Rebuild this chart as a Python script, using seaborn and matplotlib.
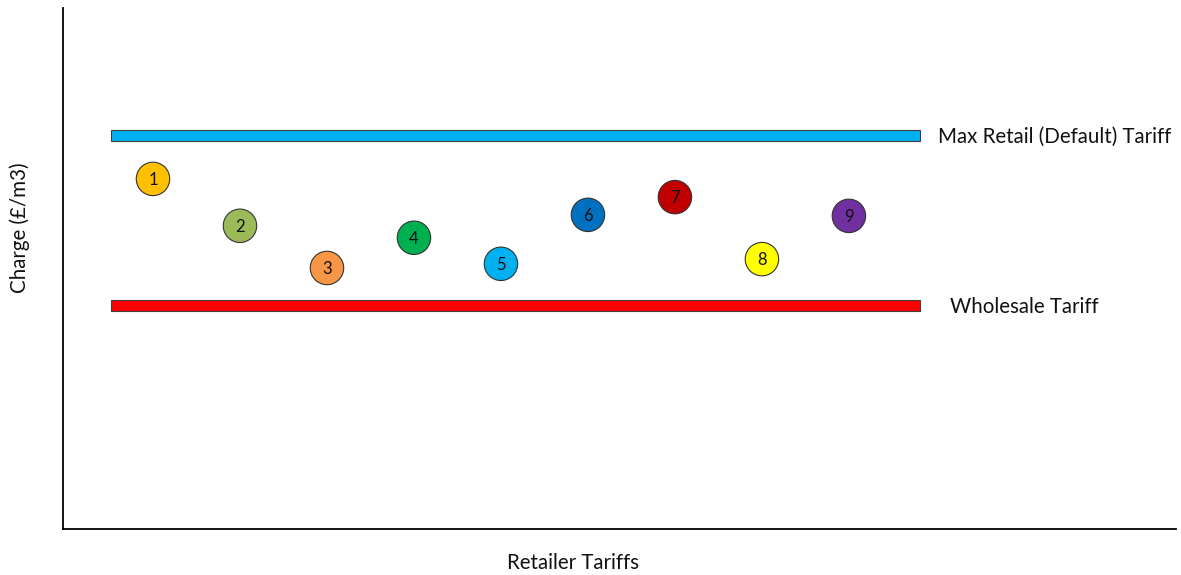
import matplotlib
matplotlib.use("Agg")
import matplotlib.pyplot as plt
import seaborn as sns
import pandas as pd

sns.set_theme(style="white")
plt.rcParams['font.family'] = ['Lato', 'DejaVu Sans']

# Data
tariff_ids = [1, 2, 3, 4, 5, 6, 7, 8, 9]
tariff_labels = ["1", "2", "3", "4", "5", "6", "7", "8", "9"]
charges = [6.72, 5.82, 5.01, 5.59, 5.09, 6.03, 6.37, 5.18, 6.01]
point_colors = ["#FFC000", "#9BBB59", "#F79646", "#00B050", "#00B0F0",
                "#0070C0", "#C00000", "#FFFF00", "#7030A0"]

band_names = ["Max Retail (Default) Tariff", "Wholesale Tariff"]
band_levels = [7.55, 4.29]
band_colors = ["#00B0F0", "#FF0000"]
band_start = 0.52
band_end = 9.82

df = pd.DataFrame({"tariff": tariff_ids, "label": tariff_labels, "charge": charges})

fig = plt.figure(figsize=(11.81, 5.75), dpi=100)
ax = fig.add_axes([63/1181, 1 - 529/575, (1176-63)/1181, (529-8)/575])

# Bands
for name, lvl, col, dx in zip(band_names, band_levels, band_colors, [0.0, 0.14]):
    ax.barh(lvl, band_end - band_start, left=band_start, height=0.21,
            color=col, edgecolor="#404040", linewidth=0.8, zorder=2)
    ax.text(band_end + 0.2 + dx, lvl - 0.02, name, va="center", ha="left",
            fontsize=14.8, color="#111111")

# Points
sns.scatterplot(data=df, x="tariff", y="charge", hue="label",
                palette=point_colors, s=580, edgecolor="#333333",
                linewidth=0.8, legend=False, ax=ax, zorder=3)
for _, r in df.iterrows():
    ax.text(r["tariff"], r["charge"] - 0.02, r["label"], ha="center", va="center",
            fontsize=12, color="#111111", zorder=4)

ax.set_xlim(-0.0345, 12.76)
ax.set_ylim(0, 10)
ax.set_xticks([])
ax.set_yticks([])
for s in ["top", "right"]:
    ax.spines[s].set_visible(False)
for s in ["left", "bottom"]:
    ax.spines[s].set_color("black")
    ax.spines[s].set_linewidth(1.3)

ax.set_xlabel("Retailer Tariffs", fontsize=14.8, color="#111111")
ax.xaxis.set_label_coords((573-63)/(1176-63), -(563-529)/(529-8), transform=ax.transAxes)
ax.xaxis.label.set_va("center")
ax.set_ylabel("Charge (£/m3)", fontsize=14.8, color="#111111")
ax.yaxis.set_label_coords(-(63-20)/(1176-63), (529-228)/(529-8), transform=ax.transAxes)
ax.yaxis.label.set_va("center")

fig.savefig("out.png", dpi=100)
